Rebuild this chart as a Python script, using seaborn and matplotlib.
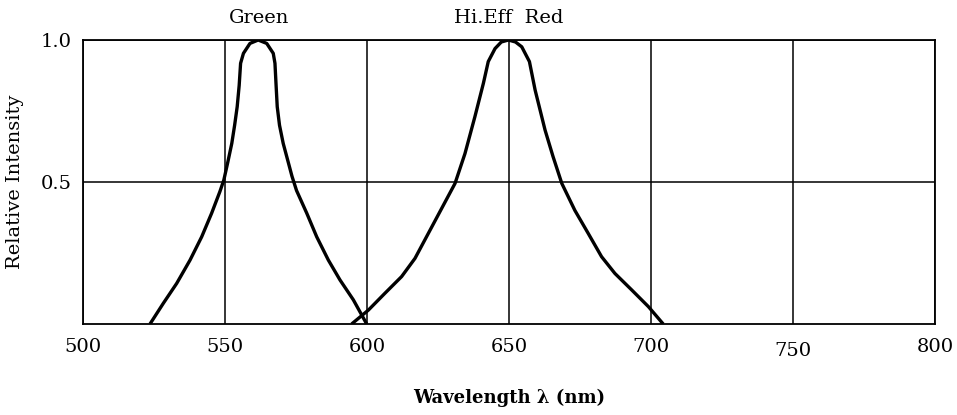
import matplotlib
matplotlib.use("Agg")
import matplotlib.pyplot as plt
import matplotlib.transforms as mtransforms
import seaborn as sns
import pandas as pd

# Green LED spectrum (wavelength nm, relative intensity)
green_wl = [523.6, 528.3, 533.0, 537.7, 541.8, 545.3, 548.2, 549.6, 551.0, 552.4, 553.4, 554.3,
            555.0, 555.5, 556.5, 558.8, 561.7, 564.7, 567.0, 567.6, 568.0, 568.4, 569.2,
            570.5, 572.0, 573.6, 575.2, 578.8, 582.3, 586.4, 590.5, 595.2, 599.9]
green_i = [0.0, 0.073, 0.143, 0.225, 0.307, 0.39, 0.466, 0.507, 0.57, 0.636, 0.70, 0.765,
           0.84, 0.918, 0.953, 0.988, 1.0, 0.988, 0.953, 0.918, 0.84, 0.765, 0.70,
           0.636, 0.58, 0.52, 0.47, 0.39, 0.307, 0.225, 0.155, 0.085, 0.0]

# Hi.Eff Red LED spectrum
red_wl = [594.6, 600.5, 606.3, 612.2, 616.9, 621.6, 626.3, 631.0, 634.5, 638.0, 641.0, 642.7,
          645.1, 647.3, 649.8, 652.3, 654.5, 657.2, 659.2, 662.7, 665.5, 668.6, 673.2,
          677.9, 682.6, 687.3, 693.2, 699.1, 704.3]
red_i = [0.0, 0.049, 0.108, 0.167, 0.231, 0.319, 0.407, 0.495, 0.60, 0.73, 0.848, 0.924,
         0.97, 0.993, 1.0, 0.993, 0.976, 0.924, 0.824, 0.683, 0.59, 0.495, 0.40,
         0.319, 0.237, 0.178, 0.12, 0.061, 0.0]

series_names = ["Green", "Hi.Eff  Red"]
peak_wl = [562, 650]
x_ticks = [500, 550, 600, 650, 700, 750, 800]
y_ticks = [0.5, 1.0]
y_tick_labels = ["0.5", "1.0"]

sns.set_theme(style="white")
plt.rcParams['font.family'] = ['DejaVu Serif', 'Liberation Serif']

fig = plt.figure(figsize=(9.57, 4.15), dpi=100)
ax = fig.add_axes([0.0867, 0.2193, 0.8903, 0.6843])

df_g = pd.DataFrame({"wl": green_wl, "I": green_i})
df_r = pd.DataFrame({"wl": red_wl, "I": red_i})
for df in (df_g, df_r):
    sns.lineplot(data=df, x="wl", y="I", ax=ax, color="black", lw=2.4, estimator=None,
                 sort=False, solid_joinstyle="round", solid_capstyle="butt")

ax.set_xlim(500, 800)
ax.set_ylim(0, 1.0)
ax.set_xticks(x_ticks)
ax.set_xticklabels([str(v) for v in x_ticks])
ax.set_yticks(y_ticks)
ax.set_yticklabels(y_tick_labels)
ax.grid(True, color="black", lw=1.1)
ax.tick_params(axis="both", length=0, labelsize=14, colors="black")
ax.tick_params(axis="x", pad=10)
ax.tick_params(axis="y", pad=8)
for s in ax.spines.values():
    s.set_color("black")
    s.set_linewidth(1.3)

# the "750" label sits slightly lower in the original
lbl = ax.get_xticklabels()[5]
lbl.set_transform(lbl.get_transform() +
                  mtransforms.ScaledTranslation(0, -3 / 72, fig.dpi_scale_trans))

ax.set_xlabel("Wavelength λ (nm)", fontsize=13, labelpad=21, color="black",
              fontweight="bold")
ax.set_ylabel("Relative Intensity", fontsize=14, labelpad=12, color="black")

for name, wl in zip(series_names, peak_wl):
    ax.text(wl, 1.045, name, transform=ax.get_xaxis_transform(), ha="center", va="bottom",
            fontsize=14, color="black")

fig.savefig("out.png", dpi=100, facecolor="white")
